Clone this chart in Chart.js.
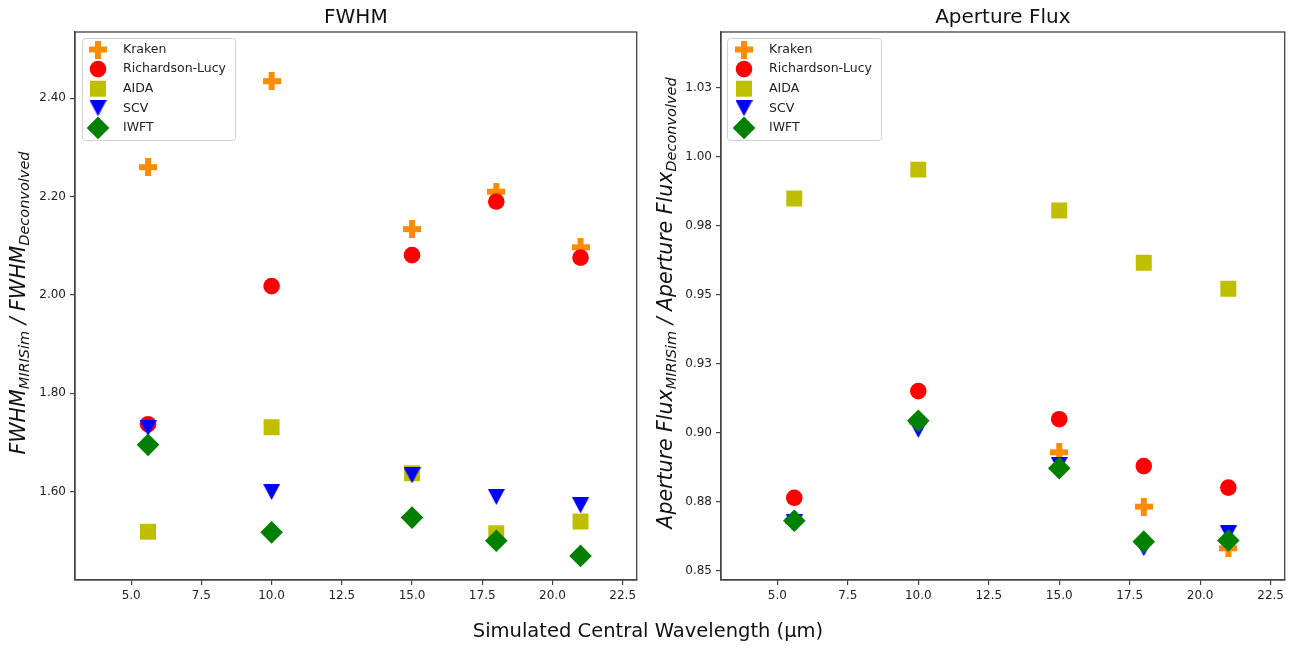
<!DOCTYPE html>
<html><head><meta charset="utf-8">
<script src="https://cdn.jsdelivr.net/npm/chart.js@4.4.0/dist/chart.umd.min.js"></script>
<style>
html,body{margin:0;padding:0;background:#fff;}
#wrap{position:relative;width:1296px;height:648px;overflow:hidden;background:#fff;}
.pane{position:absolute;top:0;width:648px;height:648px;}
#xlabel{position:absolute;left:0;width:1296px;top:619px;text-align:center;font:19.5px "DejaVu Sans";color:#111;line-height:24px;}
</style></head><body>
<div id="wrap">
<div class="pane" style="left:0"><canvas id="c1" width="648" height="648"></canvas></div>
<div class="pane" style="left:648px"><canvas id="c2" width="648" height="648"></canvas></div>
<div id="xlabel">Simulated Central Wavelength (µm)</div>
</div>
<script>
// ---------- data ----------
const wavelengths = [5.6, 10, 15, 18, 21];
const seriesNames = ['Kraken', 'Richardson-Lucy', 'AIDA', 'SCV', 'IWFT'];

const fwhmKraken = [2.260, 2.435, 2.134, 2.210, 2.097];
const fwhmRL     = [1.737, 2.018, 2.081, 2.190, 2.076];
const fwhmAIDA   = [1.518, 1.731, 1.637, 1.515, 1.539];
const fwhmSCV    = [1.729, 1.599, 1.633, 1.589, 1.572];
const fwhmIWFT   = [1.695, 1.517, 1.547, 1.500, 1.469];

const fluxKraken = [0.868, 0.904, 0.8929, 0.8732, 0.8581];
const fluxRL     = [0.8764, 0.9151, 0.9049, 0.8879, 0.8801];
const fluxAIDA   = [0.9849, 0.9954, 0.9806, 0.9616, 0.9522];
const fluxSCV    = [0.8675, 0.901, 0.8883, 0.8581, 0.8635];
const fluxIWFT   = [0.8681, 0.9043, 0.8871, 0.8605, 0.8609];

const xTickValues = [5, 7.5, 10, 12.5, 15, 17.5, 20, 22.5];
const xTickLabels = ['5.0', '7.5', '10.0', '12.5', '15.0', '17.5', '20.0', '22.5'];
const fwhmTickValues = [1.6, 1.8, 2.0, 2.2, 2.4];
const fwhmTickLabels = ['1.60', '1.80', '2.00', '2.20', '2.40'];
const fluxTickValues = [0.85, 0.875, 0.9, 0.925, 0.95, 0.975, 1.0, 1.025];
const fluxTickLabels = ['0.85', '0.88', '0.90', '0.93', '0.95', '0.98', '1.00', '1.03'];

// ---------- styles ----------
const colors = ['#ff8c00', '#ff0000', '#bfbf00', '#0000ff', '#008000'];

function makePlus(color) {
  const c = document.createElement('canvas');
  c.width = 18; c.height = 18;
  const g = c.getContext('2d');
  g.fillStyle = color;
  g.fillRect(0, 6, 18, 6);
  g.fillRect(6, 0, 6, 18);
  return c;
}
function makeTriDown(color) {
  const c = document.createElement('canvas');
  c.width = 17; c.height = 16;
  const g = c.getContext('2d');
  g.fillStyle = color;
  g.beginPath(); g.moveTo(0, 0); g.lineTo(17, 0); g.lineTo(8.5, 16); g.closePath(); g.fill();
  return c;
}
const markerStyles = [
  { pointStyle: makePlus(colors[0]), pointRadius: 9 },
  { pointStyle: 'circle', pointRadius: 8.3 },
  { pointStyle: 'rect', pointRadius: 11.3 },
  { pointStyle: makeTriDown(colors[3]), pointRadius: 8 },
  { pointStyle: 'rectRot', pointRadius: 11.3 }
];

function buildDatasets(seriesList) {
  return seriesList.map((vals, i) => ({
    label: seriesNames[i],
    data: wavelengths.map((w, j) => ({ x: w, y: vals[j] })),
    backgroundColor: colors[i],
    borderColor: colors[i],
    pointBackgroundColor: colors[i],
    pointBorderWidth: 0,
    pointStyle: markerStyles[i].pointStyle,
    pointRadius: markerStyles[i].pointRadius,
    showLine: false,
    order: seriesNames.length - 1 - i
  }));
}

Chart.defaults.font.family = 'DejaVu Sans';
Chart.defaults.font.size = 12;
Chart.defaults.color = '#222';

const framePlugin = {
  id: 'frame',
  afterDraw(chart, args, opts) {
    const ctx = chart.ctx, a = chart.chartArea;
    ctx.save();
    // axes frame
    ctx.strokeStyle = '#444';
    ctx.lineWidth = 1.3;
    ctx.strokeRect(a.left, a.top, a.right - a.left, a.bottom - a.top);
    // title
    ctx.fillStyle = '#111';
    ctx.font = '20px "DejaVu Sans"';
    ctx.textAlign = 'center';
    ctx.textBaseline = 'middle';
    ctx.fillText(opts.title, (a.left + a.right) / 2, 18);
    // y label with subscripts
    const parts = opts.ylabel;
    const bigF = 'italic 20.5px "DejaVu Sans"', smallF = 'italic 14.5px "DejaVu Sans"';
    let total = 0;
    parts.forEach(p => { ctx.font = p.sub ? smallF : bigF; total += ctx.measureText(p.t).width; });
    ctx.translate(opts.ylabelX, opts.ylabelY);
    ctx.rotate(-Math.PI / 2);
    ctx.textAlign = 'left';
    ctx.textBaseline = 'alphabetic';
    let x = -total / 2;
    parts.forEach(p => {
      ctx.font = p.sub ? smallF : bigF;
      ctx.fillText(p.t, x, p.sub ? 11 : 7);
      x += ctx.measureText(p.t).width;
    });
    ctx.restore();
    // legend
    ctx.save();
    const bx = a.left + opts.legendDx, by = a.top + 6;
    ctx.font = '12.5px "DejaVu Sans"';
    let maxW = 0;
    seriesNames.forEach(n => { maxW = Math.max(maxW, ctx.measureText(n).width); });
    const bw = 48 + maxW + 2 - opts.legendDx + 7, bh = 102;
    ctx.fillStyle = 'rgba(255,255,255,0.85)';
    ctx.strokeStyle = '#d0d0d0';
    ctx.lineWidth = 1;
    ctx.beginPath();
    ctx.roundRect(bx + 0.5, by + 0.5, bw, bh, 3);
    ctx.fill(); ctx.stroke();
    seriesNames.forEach((n, i) => {
      const cy = by + 11.5 + i * 19.6;
      const mx = a.left + 23;
      const st = markerStyles[i];
      ctx.fillStyle = colors[i];
      ctx.strokeStyle = colors[i];
      Chart.helpers.drawPoint(ctx, { pointStyle: st.pointStyle, radius: st.pointRadius, borderWidth: 0, rotation: 0 }, mx, cy);
      ctx.fillStyle = '#222';
      ctx.textAlign = 'left';
      ctx.textBaseline = 'middle';
      ctx.fillText(n, a.left + 48, cy);
    });
    ctx.restore();
  }
};

function makeChart(id, seriesList, yMin, yMax, yTicks, yLabels, yWidth, rightPad, title, ylabel, ylabelX, legendDx) {
  return new Chart(document.getElementById(id), {
    type: 'scatter',
    data: { datasets: buildDatasets(seriesList) },
    options: {
      responsive: false,
      animation: false,
      events: [],
      layout: { padding: { left: 0, right: rightPad, top: 32, bottom: 0 } },
      plugins: {
        legend: { display: false },
        tooltip: { enabled: false },
        frame: { title: title, ylabel: ylabel, ylabelX: ylabelX, ylabelY: 303, legendDx: legendDx }
      },
      scales: {
        x: {
          type: 'linear', min: 3.0, max: 23.0,
          afterBuildTicks: s => { s.ticks = xTickValues.map(v => ({ value: v })); },
          afterFit: s => { s.height = 68; s.paddingLeft = 0; s.paddingRight = 0; },
          ticks: { callback: (v, i) => xTickLabels[i], padding: 4, maxRotation: 0, autoSkip: false, color: '#222', font: { size: 12 } },
          grid: { drawOnChartArea: false, drawTicks: true, tickLength: 5, color: '#444', lineWidth: 1.2 },
          border: { display: true, color: '#444', width: 1.3 }
        },
        y: {
          type: 'linear', min: yMin, max: yMax,
          afterBuildTicks: s => { s.ticks = yTicks.map(v => ({ value: v })); },
          afterFit: s => { s.width = yWidth; s.paddingTop = 0; s.paddingBottom = 0; },
          ticks: { callback: (v, i) => yLabels[i], padding: 4, autoSkip: false, color: '#222', font: { size: 12 } },
          grid: { drawOnChartArea: false, drawTicks: true, tickLength: 5, color: '#444', lineWidth: 1.2 },
          border: { display: true, color: '#444', width: 1.3 }
        }
      }
    },
    plugins: [framePlugin]
  });
}

makeChart('c1', [fwhmKraken, fwhmRL, fwhmAIDA, fwhmSCV, fwhmIWFT], 1.42, 2.535,
  fwhmTickValues, fwhmTickLabels, 75, 6, 'FWHM',
  [{ t: 'FWHM' }, { t: 'MIRISim', sub: true }, { t: ' / FWHM' }, { t: 'Deconvolved', sub: true }], 18, 7);

makeChart('c2', [fluxKraken, fluxRL, fluxAIDA, fluxSCV, fluxIWFT], 0.8466, 1.0453,
  fluxTickValues, fluxTickLabels, 73, 8, 'Aperture Flux',
  [{ t: 'Aperture Flux' }, { t: 'MIRISim', sub: true }, { t: ' / Aperture Flux' }, { t: 'Deconvolved', sub: true }], 17, 6);
</script>
</body></html>
